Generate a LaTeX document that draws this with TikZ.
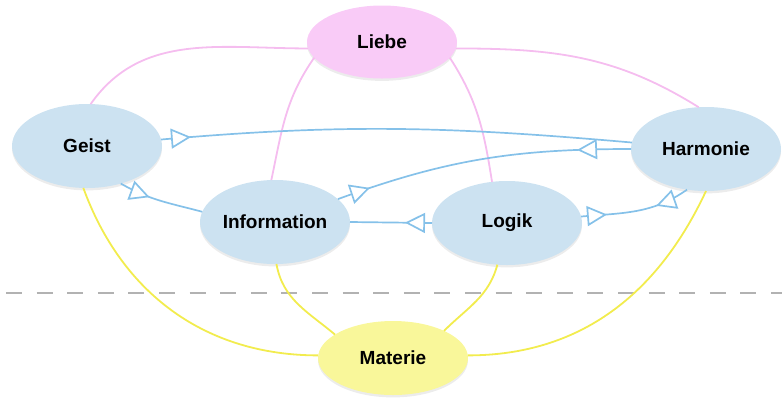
\documentclass[tikz,border=0pt]{standalone}
\usepackage{fontspec}
\setmainfont{Liberation Sans}
\usetikzlibrary{shapes.geometric,shadows,arrows.meta,decorations.markings}

\definecolor{blueFill}{HTML}{CCE2F1}
\definecolor{pinkFill}{HTML}{F9CBF7}
\definecolor{yellowFill}{HTML}{F9F79A}
\definecolor{blueLine}{HTML}{85C1E9}
\definecolor{pinkLine}{HTML}{F5BDEF}
\definecolor{yellowLine}{HTML}{F2EC4E}

\tikzset{
    opentri/.tip={Triangle[open, fill=white, length=10pt, width=10pt]},
    concept/.style={ellipse, fill=blueFill, inner sep=0pt, outer sep=0pt,
        minimum width=75pt, minimum height=42pt,
        font=\bfseries\fontsize{9.5}{11}\selectfont,
        drop shadow={shadow xshift=0pt, shadow yshift=-1.2pt, fill=black!15}},
    lovelink/.style={draw=pinkLine, line width=0.9pt},
    matterlink/.style={draw=yellowLine, line width=0.9pt},
    link/.style={color=blueLine, line width=0.85pt},
    tail mark/.style={postaction={decorate, decoration={markings,
        mark=at position #1 with {\arrow{opentri}}}}},
    head mark/.style={postaction={decorate, decoration={markings,
        mark=at position -#1 with {\arrowreversed{opentri}}}}}
}

\begin{document}
\begin{tikzpicture}[x=0.5pt, y=0.5pt]
    \useasboundingbox (0,0) rectangle (782,-398);

    % Separator
    \draw[black!30, line width=0.7pt, dash pattern=on 8pt off 7.3pt] (6,-293) -- (782,-293);

    % Concepts
    \node[concept, fill=pinkFill, minimum height=36.5pt] (liebe) at (382,-42) {Liebe};
    \node[concept] (geist) at (87,-146) {Geist};
    \node[concept] (information) at (275,-222) {Information};
    \node[concept] (logik) at (507,-223) {Logik};
    \node[concept] (harmonie) at (706,-149) {Harmonie};
    \node[concept, fill=yellowFill, minimum height=37pt] (materie) at (393,-358) {Materie};

    % Links from Liebe
    \draw[lovelink] (liebe.185) to[out=180, in=55] (geist.85);
    \draw[lovelink] (liebe.355) to[out=0, in=148] (harmonie.100);
    \draw[lovelink] (liebe.193) to[out=235, in=78] (information.95);
    \draw[lovelink] (liebe.347) to[out=-57, in=99] (logik.110);

    % Links to Materie
    \foreach \src/\sa/\out/\ta/\in in {geist/265/-70/178/180, information/272/-80/158/140,
                                        logik/257/-105/28/45, harmonie/270/-115/2/0} {
        \draw[matterlink] (\src.\sa) to[out=\out, in=\in] (materie.\ta);
    }

    % Links between the blue concepts
    \draw[link, tail mark=15pt] (geist.5) to[out=5, in=175] (harmonie.175);
    \draw[link, tail mark=16pt] (geist.-48) to[out=-30, in=165] (information.172);
    \draw[link, tail mark=17pt, head mark=27pt] (information.20) to[out=20, in=180] (harmonie.180);
    \draw[link, tail mark=13.5pt] (logik.west) -- (information.east);
    \draw[link, tail mark=13pt, head mark=17.5pt] (logik.5) to[out=5, in=215] (harmonie.245);
\end{tikzpicture}
\end{document}
